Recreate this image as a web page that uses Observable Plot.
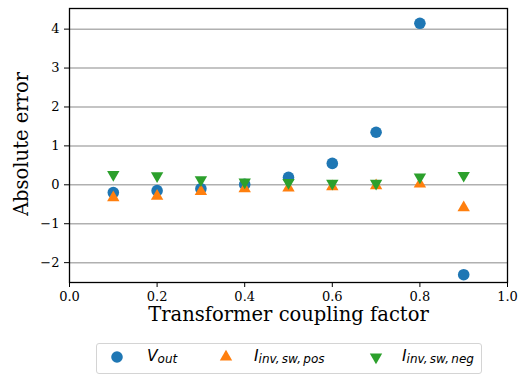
<!DOCTYPE html>
<html><head><meta charset="utf-8">
<script src="https://cdn.jsdelivr.net/npm/d3@7"></script>
<script src="https://cdn.jsdelivr.net/npm/@observablehq/plot@0.6"></script>
<style>
body{margin:0;background:white;width:522px;height:375px;overflow:hidden;position:relative}
#chart svg, #chart svg text{font-family:"DejaVu Serif" !important}
#legend{position:absolute;left:96px;top:343px;width:384px;height:29px;border:1px solid #d4d4d4;border-radius:3px;font-family:"DejaVu Sans";font-style:italic;font-size:15.5px}
.lab{position:absolute;top:3px;white-space:nowrap}
.lab sub{font-size:12px;vertical-align:-2px}
</style></head>
<body>
<div id="chart"></div>
<div id="legend"></div>
<script>
const coupling = [0.1, 0.2, 0.3, 0.4, 0.5, 0.6, 0.7, 0.8, 0.9];
const vOut = [-0.2, -0.15, -0.1, 0.01, 0.19, 0.55, 1.35, 4.15, -2.31];
const iPos = [-0.33, -0.29, -0.17, -0.1, -0.08, -0.05, -0.02, 0.02, -0.59];
const iNeg = [0.26, 0.23, 0.13, 0.07, 0.06, 0.04, 0.04, 0.2, 0.24];
const xTicks = [0, 0.2, 0.4, 0.6, 0.8, 1.0];
const yTicks = [-2, -1, 0, 1, 2, 3, 4];
const xLabel = "Transformer coupling factor";
const yLabel = "Absolute error";
const colors = ["#1f77b4", "#ff7f0e", "#2ca02c"];

const rows = (vals) => coupling.map((c, i) => ({x: c, y: vals[i]}));

const chart = Plot.plot({
  width: 522, height: 340,
  marginTop: 8, marginRight: 15, marginBottom: 58, marginLeft: 69,
  style: {fontFamily: "DejaVu Serif", background: "white", overflow: "visible"},
  x: {domain: [0, 1]},
  y: {domain: [-2.51, 4.53]},
  marks: [
    Plot.ruleY(yTicks, {stroke: "#b0b0b0", strokeWidth: 1.5}),
    Plot.axisX({ticks: xTicks, tickFormat: d3.format(".1f"), tickSize: 5, tickPadding: 4, fontSize: 13, label: null, stroke: "black", strokeWidth: 1}),
    Plot.axisY({ticks: yTicks, tickFormat: d3.format("d"), tickSize: 5, tickPadding: 5, fontSize: 13, label: null, stroke: "black", strokeWidth: 1}),
    Plot.dot(rows(vOut), {x: "x", y: "y", r: 5.8, fill: colors[0], symbol: "circle"}),
    Plot.dot(rows(iPos), {x: "x", y: "y", r: 4.6, fill: colors[1], symbol: "triangle"}),
    Plot.dot(rows(iNeg), {x: "x", y: "y", r: 4.6, fill: colors[2], symbol: "triangle", rotate: 180}),
    Plot.frame({stroke: "black", strokeWidth: 1.3}),
    Plot.text([xLabel], {frameAnchor: "bottom", dy: 38, fontSize: 19.5, fill: "black"}),
    Plot.text([yLabel], {frameAnchor: "left", textAnchor: "middle", dx: -48, dy: -1.5, rotate: -90, fontSize: 19.5, fill: "black"})
  ]
});
document.getElementById("chart").appendChild(chart);

// legend
const legendItems = [
  {sym: d3.symbolCircle, size: Math.PI * 5.8 * 5.8, rot: 0, color: colors[0], main: "V", sub: "out", mx: 20, tx: 50},
  {sym: d3.symbolTriangle, size: Math.PI * 4.6 * 4.6, rot: 0, color: colors[1], main: "I", sub: "inv,\u2009sw,\u2009pos", mx: 129, tx: 157},
  {sym: d3.symbolTriangle, size: Math.PI * 4.6 * 4.6, rot: 180, color: colors[2], main: "I", sub: "inv,\u2009sw,\u2009neg", mx: 279, tx: 305}
];
const leg = d3.select("#legend");
for (const it of legendItems) {
  const svg = leg.append("svg").attr("width", 20).attr("height", 20)
    .style("position", "absolute").style("left", (it.mx - 10) + "px").style("top", "3px");
  svg.append("path").attr("d", d3.symbol(it.sym, it.size)())
    .attr("transform", `translate(10,10) rotate(${it.rot})`).attr("fill", it.color);
  const lab = leg.append("div").attr("class", "lab").style("left", it.tx + "px");
  lab.append("span").text(it.main);
  lab.append("sub").text(it.sub);
}
</script>
</body></html>
